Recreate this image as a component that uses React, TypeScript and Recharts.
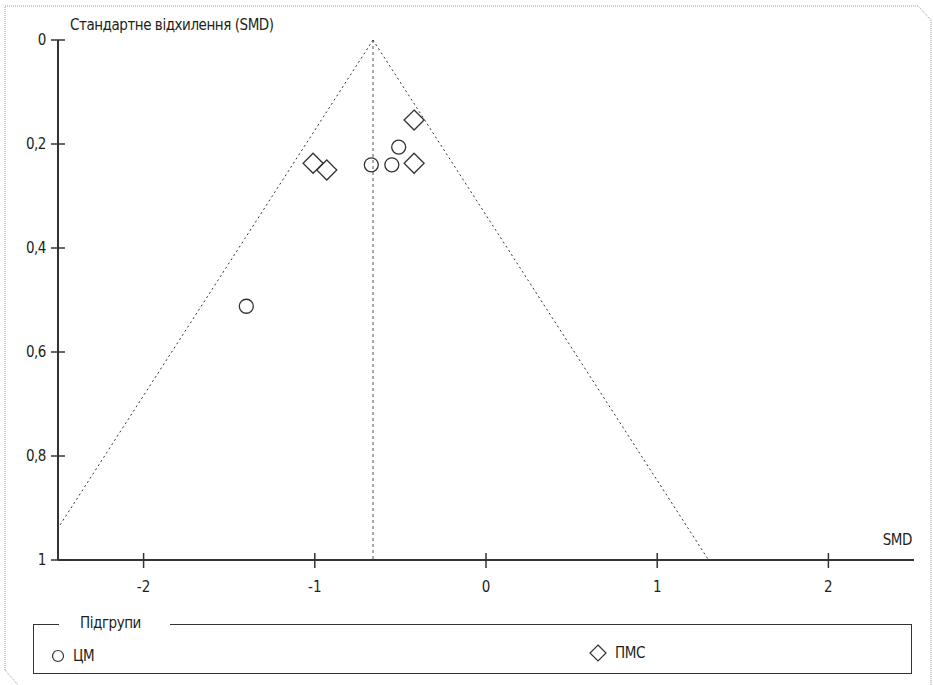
import React from 'react';
import { Label, ReferenceLine, Scatter, ScatterChart, XAxis, YAxis } from 'recharts';

// pooled effect (SMD) — apex of funnel
const POOLED_SMD = -0.66;

// ЦМ subgroup
const CM_SMD = [-1.4, -0.67, -0.55, -0.51];
const CM_SE = [0.512, 0.24, 0.24, 0.206];

// ПМС subgroup
const PMS_SMD = [-1.01, -0.93, -0.42, -0.42];
const PMS_SE = [0.237, 0.25, 0.154, 0.237];

const X_TICKS = [-2, -1, 0, 1, 2];
const Y_TICKS = [0, 0.2, 0.4, 0.6, 0.8, 1];

const FONT = "'Liberation Sans Narrow', 'DejaVu Sans Condensed', 'Roboto', sans-serif";
const INK = '#231f20';
const AXIS = '#333';
const LS = -0.45;

const cmData = CM_SMD.map((x, i) => ({ x, y: CM_SE[i] }));
const pmsData = PMS_SMD.map((x, i) => ({ x, y: PMS_SE[i] }));

const fmt = (v: number) => String(v).replace('.', ',');

const YTick = (props: any) => {
  const { x, y, payload } = props;
  return (
    <g>
      <line x1={x - 7} x2={x + 7} y1={y} y2={y} stroke={AXIS} strokeWidth={1.5} />
      <text x={x - 12} y={y} dy={5} textAnchor="end" fontSize={15} fill={INK} fontFamily={FONT} letterSpacing={LS}>
        {fmt(payload.value)}
      </text>
    </g>
  );
};

const XTick = (props: any) => {
  const { x, y, payload } = props;
  return (
    <g>
      <line x1={x} x2={x} y1={y - 7} y2={y + 8} stroke={AXIS} strokeWidth={1.5} />
      <text x={x} y={y + 27} dy={5} textAnchor="middle" fontSize={15} fill={INK} fontFamily={FONT}>
        {payload.value}
      </text>
    </g>
  );
};

const CircleShape = (props: any) => (
  <circle cx={props.cx} cy={props.cy} r={7} fill="none" stroke={AXIS} strokeWidth={1.3} />
);

const DiamondShape = (props: any) => {
  const { cx, cy } = props;
  const h = 10;
  return (
    <path
      d={`M${cx},${cy - h}L${cx + h},${cy}L${cx},${cy + h}L${cx - h},${cy}Z`}
      fill="none"
      stroke={AXIS}
      strokeWidth={1.3}
    />
  );
};

const FunnelChart: React.FC = () => {
  return (
    <div style={{ position: 'absolute', left: 0, top: 0, width: 933, height: 685, background: '#fff' }}>
      <svg width={933} height={685} style={{ position: 'absolute', left: 0, top: 0 }}>
        <path
          d="M5,670 L5,6 L918,6 L931,20 L931,685 M5,670 L18,685"
          fill="none"
          stroke="#9a9a9a"
          strokeWidth={1}
          strokeDasharray="1 1"
        />
      </svg>

      <div style={{ position: 'absolute', left: 0, top: 0 }}>
        <ScatterChart width={933} height={685} margin={{ top: 40, right: 19, bottom: 85, left: 8 }}>
          <XAxis
            type="number"
            dataKey="x"
            domain={[-2.5, 2.5]}
            ticks={X_TICKS}
            height={40}
            tickSize={0}
            tickMargin={0}
            tickLine={false}
            tick={<XTick />}
            axisLine={{ stroke: AXIS, strokeWidth: 2 }}
            allowDataOverflow
          >
            <Label
              content={(p: any) => {
                const vb = p.viewBox;
                return (
                  <text x={vb.x + vb.width - 2} y={vb.y - 15} textAnchor="end" fontSize={15} fill={INK} fontFamily={FONT} letterSpacing={LS}>
                    SMD
                  </text>
                );
              }}
            />
          </XAxis>
          <YAxis
            type="number"
            dataKey="y"
            domain={[0, 1]}
            reversed
            ticks={Y_TICKS}
            width={50}
            tickSize={0}
            tickMargin={0}
            tickLine={false}
            tick={<YTick />}
            axisLine={{ stroke: AXIS, strokeWidth: 2 }}
            allowDataOverflow
          >
            <Label
              content={(p: any) => {
                const vb = p.viewBox;
                return (
                  <text x={vb.x + vb.width + 12} y={vb.y - 10} textAnchor="start" fontSize={15} fill={INK} fontFamily={FONT} letterSpacing={LS}>
                    Стандартне відхилення (SMD)
                  </text>
                );
              }}
            />
          </YAxis>

          <ReferenceLine
            segment={[{ x: POOLED_SMD, y: 0 }, { x: POOLED_SMD, y: 1 }]}
            stroke="#555"
            strokeWidth={1}
            strokeDasharray="3 3"
          />
          <ReferenceLine
            segment={[{ x: POOLED_SMD, y: 0 }, { x: POOLED_SMD - 1.96, y: 1 }]}
            stroke="#333"
            strokeWidth={1}
            strokeDasharray="2 3"
            ifOverflow="hidden"
          />
          <ReferenceLine
            segment={[{ x: POOLED_SMD, y: 0 }, { x: POOLED_SMD + 1.96, y: 1 }]}
            stroke="#333"
            strokeWidth={1}
            strokeDasharray="2 3"
            ifOverflow="hidden"
          />

          <Scatter name="ЦМ" data={cmData} shape={<CircleShape />} isAnimationActive={false} />
          <Scatter name="ПМС" data={pmsData} shape={<DiamondShape />} isAnimationActive={false} />
        </ScatterChart>
      </div>

      {/* legend box */}
      <div
        style={{
          position: 'absolute',
          left: 33,
          top: 624,
          width: 877,
          height: 48,
          border: `1.5px solid ${AXIS}`,
          fontFamily: FONT,
          fontSize: 15,
          letterSpacing: LS,
          color: INK,
        }}
      >
        <span
          style={{
            position: 'absolute',
            left: 25,
            top: -12,
            width: 111,
            boxSizing: 'border-box',
            paddingLeft: 21,
            background: '#fff',
            lineHeight: '20px',
          }}
        >
          Підгрупи
        </span>
        <div style={{ position: 'absolute', left: 17, top: 21, display: 'flex', alignItems: 'center' }}>
          <svg width={14} height={14}>
            <circle cx={7} cy={7} r={5.5} fill="none" stroke={AXIS} strokeWidth={1.2} />
          </svg>
          <span style={{ marginLeft: 8, lineHeight: '20px' }}>ЦМ</span>
        </div>
        <div style={{ position: 'absolute', left: 554, top: 18, display: 'flex', alignItems: 'center' }}>
          <svg width={20} height={20}>
            <path d="M10,2L18,10L10,18L2,10Z" fill="none" stroke={AXIS} strokeWidth={1.2} />
          </svg>
          <span style={{ marginLeft: 7, lineHeight: '20px' }}>ПМС</span>
        </div>
      </div>
    </div>
  );
};

export default function App() {
  return <FunnelChart />;
}
